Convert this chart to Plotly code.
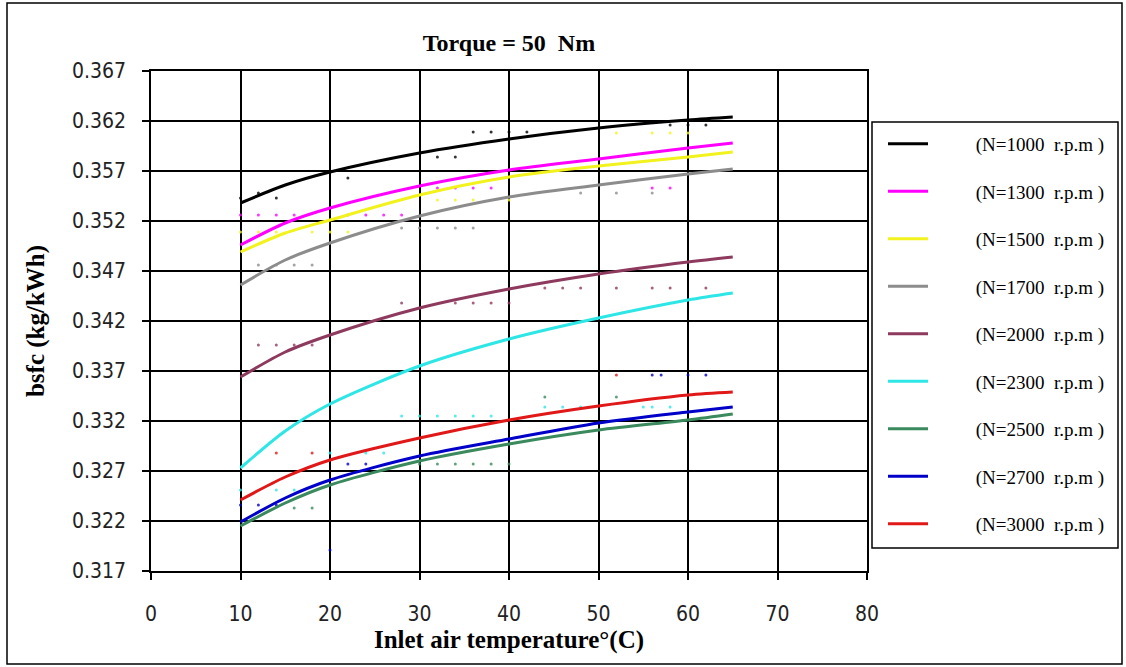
import plotly.graph_objects as go

# ---------------- data ----------------
temps = [10, 15, 20, 30, 40, 50, 60, 65]

labels = ["(N=1000  r.p.m )", "(N=1300  r.p.m )", "(N=1500  r.p.m )",
          "(N=1700  r.p.m )", "(N=2000  r.p.m )", "(N=2300  r.p.m )",
          "(N=2500  r.p.m )", "(N=2700  r.p.m )", "(N=3000  r.p.m )"]
colors = ["#000000", "#FF00FF", "#F2F21E", "#8C8C8C", "#8E3A5E",
          "#2EE6E6", "#3A8A5E", "#0000C8", "#E01818"]

bsfc_1000 = [0.3538, 0.3556, 0.3569, 0.3588, 0.3602, 0.3613, 0.3621, 0.3624]
bsfc_1300 = [0.3496, 0.3518, 0.3533, 0.3555, 0.3571, 0.3582, 0.3593, 0.3598]
bsfc_1500 = [0.3489, 0.3508, 0.3521, 0.3546, 0.3564, 0.3575, 0.3584, 0.3589]
bsfc_1700 = [0.3456, 0.3481, 0.3498, 0.3525, 0.3544, 0.3556, 0.3567, 0.3572]
bsfc_2000 = [0.3364, 0.3389, 0.3406, 0.3433, 0.3452, 0.3467, 0.3479, 0.3484]
bsfc_2300 = [0.3273, 0.3310, 0.3337, 0.3375, 0.3402, 0.3423, 0.3441, 0.3448]
bsfc_2500 = [0.3215, 0.3238, 0.3256, 0.3280, 0.3297, 0.3311, 0.3321, 0.3327]
bsfc_2700 = [0.3219, 0.3243, 0.3261, 0.3285, 0.3302, 0.3318, 0.3329, 0.3334]
bsfc_3000 = [0.3241, 0.3264, 0.3281, 0.3303, 0.3321, 0.3335, 0.3346, 0.3349]
curves = [bsfc_1000, bsfc_1300, bsfc_1500, bsfc_1700, bsfc_2000,
          bsfc_2300, bsfc_2500, bsfc_2700, bsfc_3000]

# measured points (small dots)
pts_1000_x = [10, 12, 14, 22, 32, 34, 36, 38, 40, 42, 58, 60, 62]
pts_1000_y = [0.3543, 0.3548, 0.3543, 0.3563, 0.3584, 0.3584, 0.3609, 0.3609,
              0.3609, 0.3609, 0.3616, 0.3616, 0.3616]
pts_1300_x = [10, 12, 14, 16, 22, 24, 26, 28, 32, 34, 36, 38, 56, 58]
pts_1300_y = [0.3526, 0.3526, 0.3526, 0.3526, 0.3526, 0.3526, 0.3526, 0.3526,
              0.3553, 0.3553, 0.3553, 0.3553, 0.3553, 0.3553]
pts_1500_x = [10, 12, 14, 18, 20, 22, 32, 34, 36, 40, 52, 56, 58, 60]
pts_1500_y = [0.3509, 0.3509, 0.3509, 0.3509, 0.3509, 0.3509, 0.3541, 0.3541,
              0.3541, 0.3541, 0.3608, 0.3608, 0.3608, 0.3608]
pts_1700_x = [12, 14, 16, 18, 28, 30, 32, 34, 36, 48, 52, 56]
pts_1700_y = [0.3476, 0.3476, 0.3476, 0.3476, 0.3513, 0.3513, 0.3513, 0.3513,
              0.3513, 0.3548, 0.3548, 0.3548]
pts_2000_x = [12, 14, 16, 18, 28, 34, 36, 38, 40, 44, 46, 48, 52, 56, 58, 62]
pts_2000_y = [0.3396, 0.3396, 0.3396, 0.3396, 0.3438, 0.3438, 0.3438, 0.3438,
              0.3438, 0.3453, 0.3453, 0.3453, 0.3453, 0.3453, 0.3453, 0.3453]
pts_2300_x = [10, 14, 16, 20, 24, 26, 28, 30, 32, 34, 36, 38, 44, 46, 48, 55, 56, 58]
pts_2300_y = [0.3251, 0.3251, 0.3251, 0.3288, 0.3288, 0.3288, 0.3325, 0.3325,
              0.3325, 0.3325, 0.3325, 0.3325, 0.3334, 0.3334, 0.3334, 0.3334,
              0.3334, 0.3334]
pts_2500_x = [16, 18, 30, 32, 34, 36, 38, 40, 44, 52]
pts_2500_y = [0.3233, 0.3233, 0.3277, 0.3277, 0.3277, 0.3277, 0.3277, 0.3277,
              0.3344, 0.3344]
pts_2700_x = [10, 12, 14, 20, 22, 24, 56, 57, 60, 62]
pts_2700_y = [0.3236, 0.3236, 0.3236, 0.3191, 0.3277, 0.3277, 0.3366, 0.3366,
              0.3366, 0.3366]
pts_3000_x = [14, 18, 52]
pts_3000_y = [0.3288, 0.3288, 0.3366]
points = [(pts_1000_x, pts_1000_y), (pts_1300_x, pts_1300_y), (pts_1500_x, pts_1500_y),
          (pts_1700_x, pts_1700_y), (pts_2000_x, pts_2000_y), (pts_2300_x, pts_2300_y),
          (pts_2500_x, pts_2500_y), (pts_2700_x, pts_2700_y), (pts_3000_x, pts_3000_y)]

x_ticks = [0, 10, 20, 30, 40, 50, 60, 70, 80]
y_ticks = [0.317, 0.322, 0.327, 0.332, 0.337, 0.342, 0.347, 0.352, 0.357, 0.362, 0.367]

# ---------------- figure ----------------
W, H = 1126, 667
L, R, T, B = 151, 867, 71, 571
PAD = "\u00a0" * 9  # gap between legend line sample and its text

fig = go.Figure()
for i, (lab, col, ys) in enumerate(zip(labels, colors, curves)):
    px_, py_ = points[i]
    fig.add_trace(go.Scatter(x=px_, y=py_, mode="markers",
                             marker=dict(color=col, size=3, opacity=0.8),
                             showlegend=False, hoverinfo="skip"))
for i, (lab, col, ys) in enumerate(zip(labels, colors, curves)):
    fig.add_trace(go.Scatter(x=temps, y=ys, mode="lines", name=PAD + lab,
                             line=dict(color=col, width=3, shape="spline", smoothing=0.8),
                             legendgroup=str(i)))

tickfont = dict(family="Liberation Sans Narrow, DejaVu Sans Condensed, Arial Narrow, sans-serif",
                size=21, color="#222222")
serif_bold = "Liberation Serif, Times New Roman, serif"

def px2x(p):
    return (p - L) / (R - L)

def py2y(p):
    return (B - p) / (B - T)

shapes = [
    # outer frame
    dict(type="rect", xref="paper", yref="paper",
         x0=px2x(7), x1=px2x(1122), y0=py2y(664), y1=py2y(3),
         line=dict(color="#000000", width=1.5), layer="below"),
    # legend box
    dict(type="rect", xref="paper", yref="paper",
         x0=px2x(872), x1=px2x(1118), y0=py2y(548), y1=py2y(122),
         line=dict(color="#000000", width=1.5), fillcolor="white", layer="below"),
]

fig.update_layout(
    width=W, height=H,
    margin=dict(l=L, r=W - R, t=T, b=H - B, autoexpand=False),
    paper_bgcolor="white", plot_bgcolor="white",
    title=dict(text="<b>Torque = 50  Nm</b>", x=509 / W, xanchor="center",
               y=1 - 43 / H, yanchor="middle",
               font=dict(family=serif_bold, size=24, color="#000000")),
    xaxis=dict(range=[0, 80], tickvals=x_ticks, ticktext=[str(v) for v in x_ticks],
               showgrid=True, gridcolor="#000000", gridwidth=1.5,
               showline=True, linecolor="#000000", linewidth=1.5, mirror=True,
               ticks="outside", ticklen=7, tickcolor="#000000", tickwidth=1.5,
               ticklabelstandoff=16, tickfont=tickfont, zeroline=False, automargin=False,
               title=dict(text="<b>Inlet air temperature°(C)</b>", standoff=4,
                          font=dict(family=serif_bold, size=25, color="#000000"))),
    yaxis=dict(range=[0.317, 0.367], tickvals=y_ticks, ticktext=["%.3f" % v for v in y_ticks],
               showgrid=True, gridcolor="#000000", gridwidth=1.5,
               showline=True, linecolor="#000000", linewidth=1.5, mirror=True,
               ticks="outside", ticklen=7, tickcolor="#000000", tickwidth=1.5,
               ticklabelstandoff=12, tickfont=tickfont, zeroline=False, automargin=False,
               title=dict(text="<b>bsfc (kg/kWh)</b>", standoff=20,
                          font=dict(family=serif_bold, size=25, color="#000000"))),
    legend=dict(xref="container", yref="container", x=883 / W, y=1 - 125 / H,
                xanchor="left", yanchor="top", bgcolor="rgba(0,0,0,0)",
                borderwidth=0, tracegroupgap=19.8, itemwidth=40, maxheight=520,
                font=dict(family=serif_bold, size=19, color="#000000")),
    shapes=shapes,
)

fig.write_html("out.html")
